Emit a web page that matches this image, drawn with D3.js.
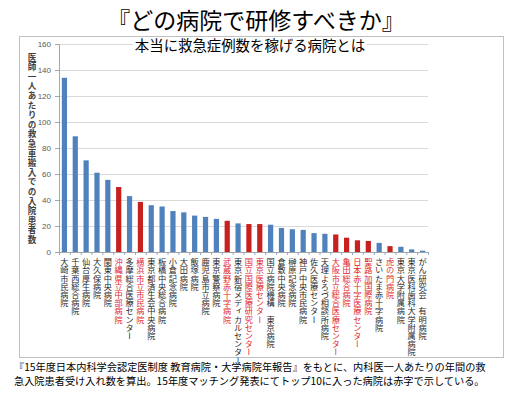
<!DOCTYPE html>
<html>
<head>
<meta charset="utf-8">
<script src="https://cdn.jsdelivr.net/npm/d3@7"></script>
<style>
  body { margin: 0; background: #fff; }
  svg text { font-family: "Noto Sans CJK JP", sans-serif; }
</style>
</head>
<body>
<div id="chart"></div>
<script>
const hospitals = [
    '大崎市民病院', '千葉西総合病院', '仙台厚生病院', '大久保病院', '関東中央病院',
    '沖縄県立中部病院', '多摩総合医療センター', '横浜市立市民病院', '東京都済生会中央病院', '板橋中央総合病院',
    '小倉記念病院', '大田病院', '飯塚病院', '鹿児島市立病院', '東京警察病院',
    '武蔵野赤十字病院', '東京新宿メディカルセンター', '国立国際医療研究センター', '東京医療センター', '国立病院機構　東京病院',
    '倉敷中央病院', '榊原記念病院', '神戸中央市民病院', '佐久医療センター', '天理よろづ相談所病院',
    '大阪市立総合医療センター', '亀田総合病院', '日本赤十字医療センター', '聖路加国際病院', 'さいたま赤十字病院',
    '虎の門病院', '東京大学附属病院', '東京医科歯科大学附属病院', 'がん研究会　有明病院'
];
const patients = [
    134, 89, 70.5, 61, 55.5, 50, 43, 38.5, 36, 35,
    31.5, 30.5, 28, 27, 25.5, 24, 22, 21.5, 21.5, 21,
    18.5, 17.5, 17, 14.5, 14, 13.5, 11, 9, 8.5, 7,
    4.5, 4, 2, 1
];
// top 10 in the matching results
const top10 = [
    '沖縄県立中部病院', '横浜市立市民病院', '武蔵野赤十字病院', '国立国際医療研究センター', '東京医療センター',
    '大阪市立総合医療センター', '亀田総合病院', '日本赤十字医療センター', '聖路加国際病院', '虎の門病院'
];
const yTicks = [0, 20, 40, 60, 80, 100, 120, 140, 160];

const W = 517, H = 397;
const margin = { top: 44, left: 59, right: 89, bottom: 145 };
const width = W - margin.left - margin.right;
const height = H - margin.top - margin.bottom;

const svg = d3.select('#chart').append('svg')
    .attr('width', W)
    .attr('height', H);

// frame
svg.append('rect')
    .attr('x', 19.5).attr('y', 36.5)
    .attr('width', 484).attr('height', 321)
    .attr('fill', 'none')
    .attr('stroke', '#bfbfbf');

const g = svg.append('g')
    .attr('transform', 'translate(' + margin.left + ',' + margin.top + ')');

const x = d3.scaleBand()
    .domain(hospitals)
    .range([0, width])
    .paddingInner(0.52)
    .paddingOuter(0.26);

const y = d3.scaleLinear()
    .domain([0, 160])
    .range([height, 0]);

// gridlines
g.append('g')
    .attr('class', 'grid')
    .call(d3.axisLeft(y).tickValues(yTicks).tickSize(-width).tickFormat(''))
    .call(s => s.select('.domain').remove())
    .call(s => s.selectAll('line').attr('stroke', '#d9d9d9'));

// y axis
g.append('g')
    .attr('class', 'y axis')
    .call(d3.axisLeft(y).tickValues(yTicks).tickSize(4).tickPadding(4))
    .call(s => s.select('.domain').attr('stroke', '#a6a6a6'))
    .call(s => s.selectAll('line').attr('stroke', '#a6a6a6'))
    .call(s => s.selectAll('text')
        .attr('fill', '#595959')
        .style('font-size', '8px')
        .style('font-family', 'Arial, "Liberation Sans", sans-serif'));

// bars
g.selectAll('.bar')
    .data(hospitals)
    .enter().append('rect')
        .attr('class', 'bar')
        .attr('x', (d) => x(d))
        .attr('width', x.bandwidth())
        .attr('y', (d, i) => y(patients[i]))
        .attr('height', (d, i) => height - y(patients[i]))
        .style('fill', (d) => top10.includes(d) ? '#c8201f' : '#4f81bd');

// x axis: line with ticks on category boundaries
const xb = d3.scaleLinear().domain([0, hospitals.length]).range([0, width]);
g.append('g')
    .attr('class', 'x axis')
    .attr('transform', 'translate(0,' + height + ')')
    .call(d3.axisBottom(xb).tickValues(d3.range(hospitals.length + 1)).tickSize(3).tickFormat(''))
    .call(s => s.select('.domain').attr('stroke', '#a6a6a6'))
    .call(s => s.selectAll('line').attr('stroke', '#8ea9cf'));

// vertical category labels
g.append('g')
    .attr('class', 'x labels')
    .selectAll('text')
    .data(hospitals)
    .enter().append('text')
        .attr('x', (d) => x(d) + x.bandwidth() / 2)
        .attr('y', height + 6)
        .style('writing-mode', 'vertical-rl')
        .style('text-orientation', 'upright')
        .style('font-size', '8.2px')
        .attr('fill', (d) => top10.includes(d) ? '#e0262b' : '#262626')
        .text((d) => d);

// y axis title
svg.append('text')
    .attr('x', 32)
    .attr('y', 53)
    .style('writing-mode', 'vertical-rl')
    .style('text-orientation', 'upright')
    .style('font-size', '8.6px')
    .style('font-weight', 'bold')
    .style('letter-spacing', '1px')
    .attr('fill', '#404040')
    .text('医師一人あたりの救急車搬入での入院患者数');

// subtitle (sits on the top gridline, white box behind it)
const subBox = svg.append('rect').attr('fill', '#fff');
const sub = svg.append('text')
    .attr('x', 250)
    .attr('y', 51)
    .attr('text-anchor', 'middle')
    .style('font-size', '14.4px')
    .attr('fill', '#000')
    .text('本当に救急症例数を稼げる病院とは');
const bb = sub.node().getBBox();
subBox
    .attr('x', bb.x - 2).attr('y', bb.y + 3)
    .attr('width', bb.width + 4).attr('height', bb.height - 6);

// title
svg.append('text')
    .attr('x', 256)
    .attr('y', 29)
    .attr('text-anchor', 'middle')
    .style('font-size', '23px')
    .attr('fill', '#000')
    .text('『どの病院で研修すべきか』');

// footnote
const notes = [
    '『15年度日本内科学会認定医制度  教育病院・大学病院年報告』をもとに、内科医一人あたりの年間の救',
    '急入院患者受け入れ数を算出。15年度マッチング発表にてトップ10に入った病院は赤字で示している。'
];
svg.append('g')
    .selectAll('text')
    .data(notes)
    .enter().append('text')
        .attr('x', 14)
        .attr('y', (d, i) => 370.5 + i * 14.8)
        .style('font-size', '10.2px')
        .attr('fill', '#000')
        .text((d) => d);
</script>
</body>
</html>
